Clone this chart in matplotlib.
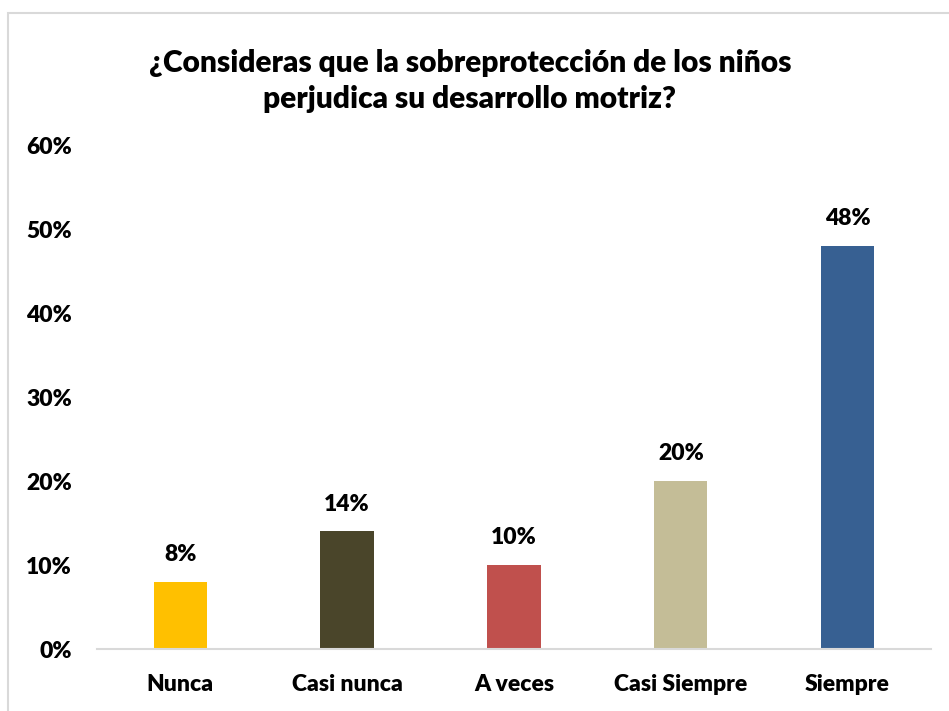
import matplotlib
matplotlib.use("Agg")
import matplotlib.pyplot as plt
from matplotlib.patches import Rectangle
from matplotlib.ticker import PercentFormatter

categories = ["Nunca", "Casi nunca", "A veces", "Casi Siempre", "Siempre"]
values = [0.08, 0.14, 0.10, 0.20, 0.48]
colors = ["#FFC000", "#4A452A", "#C0504D", "#C4BD97", "#376092"]
yticks = [0, 0.1, 0.2, 0.3, 0.4, 0.5, 0.6]

plt.rcParams["font.family"] = ["Lato", "DejaVu Sans"]
W = "heavy"

fig = plt.figure(figsize=(9.49, 7.11), dpi=100)
ax = fig.add_axes([0.1022, 0.0872, 0.8788, 0.7088])

x = range(len(categories))
bars = ax.bar(x, values, width=0.32, color=colors)

for b, v in zip(bars, values):
    ax.text(b.get_x() + b.get_width() / 2, v + 0.02, f"{v:.0%}",
            ha="center", va="bottom", fontsize=16.5, fontweight=W)

ax.set_xlim(-0.5, len(categories) - 0.5)
ax.set_ylim(0, 0.6)
ax.set_yticks(yticks)
ax.yaxis.set_major_formatter(PercentFormatter(1.0, decimals=0))
ax.set_xticks(list(x))
ax.set_xticklabels(categories)
for lab in ax.get_xticklabels() + ax.get_yticklabels():
    lab.set_fontsize(16.5)
    lab.set_fontweight(W)
ax.tick_params(length=0)
ax.tick_params(axis="x", pad=18)
ax.tick_params(axis="y", pad=18)

for s in ["top", "right", "left"]:
    ax.spines[s].set_visible(False)
ax.spines["bottom"].set_color("#D9D9D9")
ax.spines["bottom"].set_linewidth(1.5)

fig.text(0.495, 0.886, "¿Consideras que la sobreprotección de los niños\nperjudica su desarrollo motriz?",
         ha="center", va="center", fontsize=21.5, fontweight=W, linespacing=1.35)

# outer chart border (cut off at right and bottom)
fig.patches.append(Rectangle((8 / 949, -0.1), 1.1, (711 - 13) / 711 + 0.1,
                             transform=fig.transFigure, fill=False,
                             edgecolor="#D9D9D9", linewidth=1.5))

fig.savefig("out.png", dpi=100)
